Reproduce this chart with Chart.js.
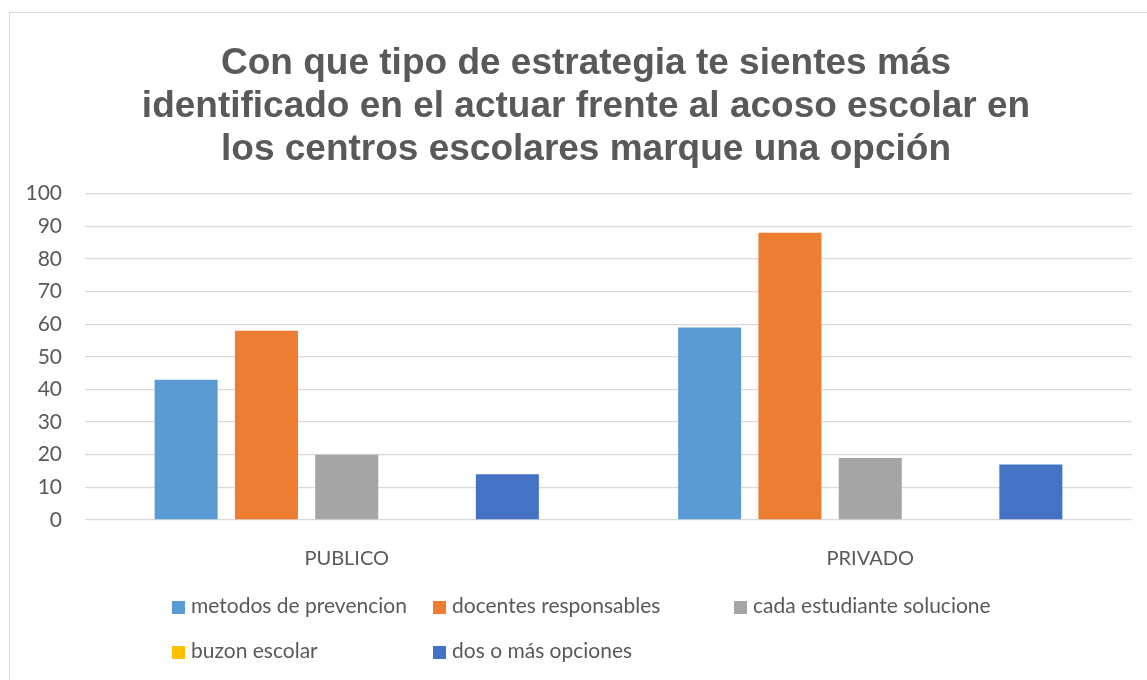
<!DOCTYPE html>
<html>
<head>
<meta charset="utf-8">
<script src="https://cdn.jsdelivr.net/npm/chart.js@4/dist/chart.umd.min.js"></script>
<style>
  html, body { margin: 0; padding: 0; background: #fff; overflow: hidden; width: 1147px; height: 680px; }
  #frame { position: absolute; left: 9px; top: 12px; width: 1170px; height: 700px; border: 1px solid #d9d9d9; box-sizing: border-box; }
  #wrap { position: absolute; left: 0; top: 0; width: 1173px; height: 680px; }
  #legend { position: absolute; left: 0; top: 0; width: 1147px; height: 680px; pointer-events: none;
            font-family: Lato, "Open Sans", sans-serif; font-size: 21px; color: #595959; }
  .item { position: absolute; height: 24px; line-height: 24px; white-space: nowrap; transform: translateY(-50%); }
  .sw { display: inline-block; width: 13px; height: 13px; margin-right: 6px; vertical-align: -1px; }
</style>
</head>
<body>
<div id="frame"></div>
<div id="wrap"><canvas id="chart" width="1173" height="680"></canvas></div>
<div id="legend"></div>
<script>
// datos del grafico
const titleLines = [
  'Con que tipo de estrategia te sientes más',
  'identificado en el actuar frente al acoso escolar en',
  'los centros escolares marque una opción'
];
const categories = ['PUBLICO', 'PRIVADO'];
const seriesNames = ['metodos de prevencion', 'docentes responsables', 'cada estudiante solucione', 'buzon escolar', 'dos o más opciones'];
const seriesColors = ['#5B9BD5', '#ED7D31', '#A5A5A5', '#FFC000', '#4472C4'];
const metodos = [43, 59];
const docentes = [58, 88];
const cadaEstudiante = [20, 19];
const buzon = [0, 0];
const dosOMas = [14, 17];
const yTicks = [0, 10, 20, 30, 40, 50, 60, 70, 80, 90, 100];

const seriesValues = [metodos, docentes, cadaEstudiante, buzon, dosOMas];
const textColor = '#595959';

// mueve el titulo para que quede centrado en el marco del grafico
const titleShift = {
  id: 'titleShift',
  afterLayout: function(chart) {
    if (chart.titleBlock) chart.titleBlock.left += 40;
  }
};

const ctx = document.getElementById('chart');
new Chart(ctx, {
  type: 'bar',
  data: {
    labels: categories,
    datasets: seriesNames.map(function(name, i) {
      return {
        label: name,
        data: seriesValues[i],
        backgroundColor: seriesColors[i],
        borderWidth: 0,
        categoryPercentage: 0.767,
        barPercentage: 0.785
      };
    })
  },
  options: {
    responsive: false,
    animation: false,
    layout: { padding: { left: 0, right: 41, top: 0, bottom: 0 } },
    plugins: {
      legend: { display: false },
      tooltip: { enabled: false },
      title: {
        display: true,
        text: titleLines,
        color: textColor,
        font: { family: '"Liberation Sans", Arial, sans-serif', size: 37, weight: 'bold', lineHeight: 1.15 },
        padding: { top: 43, bottom: 23 }
      }
    },
    scales: {
      x: {
        grid: { display: false },
        border: { display: false },
        ticks: { color: textColor, font: { family: 'Lato, "Open Sans", sans-serif', size: 20 }, padding: 19 },
        afterFit: function(scale) { scale.height = 160; }
      },
      y: {
        min: 0,
        max: 100,
        afterBuildTicks: function(scale) { scale.ticks = yTicks.map(function(v) { return { value: v }; }); },
        grid: { color: '#d9d9d9', lineWidth: 1.3, drawTicks: false },
        border: { display: false },
        ticks: { color: textColor, font: { family: 'Lato, "Open Sans", sans-serif', size: 21 }, padding: 23 },
        afterFit: function(scale) { scale.width = 85; }
      }
    }
  },
  plugins: [titleShift]
});

// leyenda en cuadricula como en Excel
const legendEl = document.getElementById('legend');
const legendCols = [172, 433, 734];
const legendRows = [605, 650];
seriesNames.forEach(function(name, i) {
  const item = document.createElement('div');
  item.className = 'item';
  item.style.left = legendCols[i % 3] + 'px';
  item.style.top = legendRows[Math.floor(i / 3)] + 'px';
  if (i >= 3) {
    item.style.left = legendCols[i - 3] + 'px';
  }
  item.innerHTML = '<span class="sw" style="background:' + seriesColors[i] + '"></span>' + name;
  legendEl.appendChild(item);
});
</script>
</body>
</html>
